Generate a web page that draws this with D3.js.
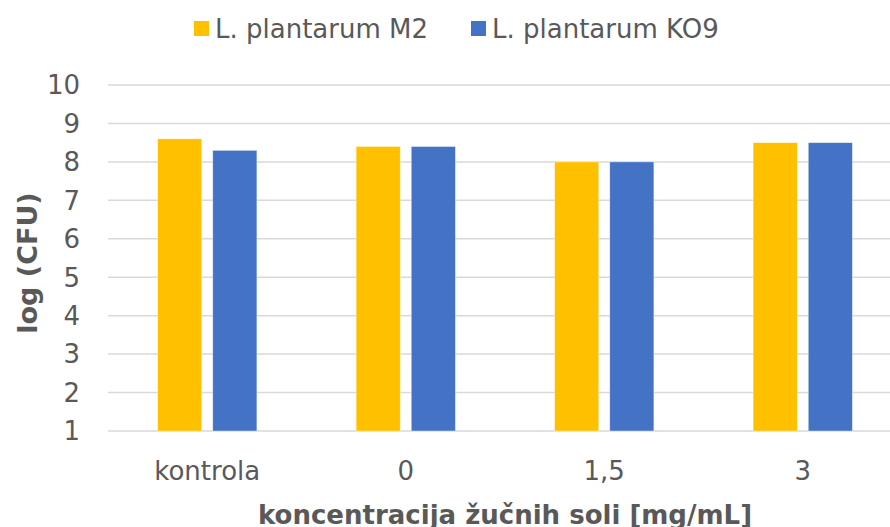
<!DOCTYPE html>
<html>
<head>
<meta charset="utf-8">
<script src="https://cdn.jsdelivr.net/npm/d3@7"></script>
<style>
  body { margin: 0; background: #fff; }
  text { font-family: "DejaVu Sans", sans-serif; fill: #595959; }
</style>
</head>
<body>
<svg id="chart" width="890" height="527"></svg>
<script>
// data
var categories = ["kontrola", "0", "1,5", "3"];
var seriesNames = ["L. plantarum M2", "L. plantarum KO9"];
var m2 = [8.6, 8.4, 8.0, 8.5];
var ko9 = [8.3, 8.4, 8.0, 8.5];
var yTicks = [1, 2, 3, 4, 5, 6, 7, 8, 9, 10];
var colors = ["#FFC000", "#4472C4"];

var svg = d3.select("#chart");

// plot area (right side runs past the window edge, as in the original)
var plotLeft = 108, plotRight = 902, plotTop = 85, plotBottom = 431;

var x0 = d3.scaleBand().domain(categories).range([plotLeft, plotRight])
    .paddingInner(0.5).paddingOuter(0.25);
var x1 = d3.scaleBand().domain(seriesNames).range([0, x0.bandwidth()])
    .paddingInner(0.2);
var y = d3.scaleLinear().domain([1, 10]).range([plotBottom, plotTop]);

// gridlines
svg.append("g").selectAll("line")
    .data(yTicks)
  .enter().append("line")
    .attr("x1", plotLeft).attr("x2", 890)
    .attr("y1", function(d) { return y(d); })
    .attr("y2", function(d) { return y(d); })
    .attr("stroke", "#D9D9D9")
    .attr("stroke-width", 1.5);

// y tick labels
svg.append("g").selectAll("text")
    .data(yTicks)
  .enter().append("text")
    .attr("x", 80)
    .attr("y", function(d) { return y(d); })
    .attr("dy", "0.36em")
    .attr("text-anchor", "end")
    .style("font-size", "26px")
    .text(function(d) { return d; });

// bars
var rows = categories.map(function(c, i) { return {cat: c, vals: [m2[i], ko9[i]]}; });

var groups = svg.append("g").selectAll("g")
    .data(rows)
  .enter().append("g")
    .attr("transform", function(d) { return "translate(" + x0(d.cat) + ",0)"; });

groups.selectAll("rect")
    .data(function(d) { return d.vals.map(function(v, j) { return {s: seriesNames[j], v: v, j: j}; }); })
  .enter().append("rect")
    .attr("x", function(d) { return x1(d.s); })
    .attr("width", x1.bandwidth())
    .attr("y", function(d) { return y(d.v); })
    .attr("height", function(d) { return y(1) - y(d.v); })
    .attr("fill", function(d) { return colors[d.j]; })
    .attr("stroke", "#fff")
    .attr("stroke-opacity", 0.5)
    .attr("stroke-width", 0.75);

// x tick labels
svg.append("g").selectAll("text")
    .data(categories)
  .enter().append("text")
    .attr("x", function(d) { return x0(d) + x0.bandwidth() / 2; })
    .attr("y", 480)
    .attr("text-anchor", "middle")
    .style("font-size", "26px")
    .text(function(d) { return d; });

// axis titles
svg.append("text")
    .attr("x", (plotLeft + plotRight) / 2)
    .attr("y", 524)
    .attr("text-anchor", "middle")
    .style("font-size", "26px")
    .style("font-weight", "bold")
    .text("koncentracija žučnih soli [mg/mL]");

svg.append("text")
    .attr("transform", "translate(37,263) rotate(-90)")
    .attr("text-anchor", "middle")
    .style("font-size", "27px")
    .style("font-weight", "bold")
    .text("log (CFU)");

// legend
var legendX = [194, 471];
var legend = svg.append("g").selectAll("g")
    .data(seriesNames)
  .enter().append("g")
    .attr("transform", function(d, i) { return "translate(" + legendX[i] + ",21)"; });

legend.append("rect")
    .attr("width", 15)
    .attr("height", 15)
    .attr("fill", function(d, i) { return colors[i]; });

legend.append("text")
    .attr("x", 21)
    .attr("y", 7.5)
    .attr("dy", "0.36em")
    .style("font-size", "26px")
    .text(function(d) { return d; });
</script>
</body>
</html>
